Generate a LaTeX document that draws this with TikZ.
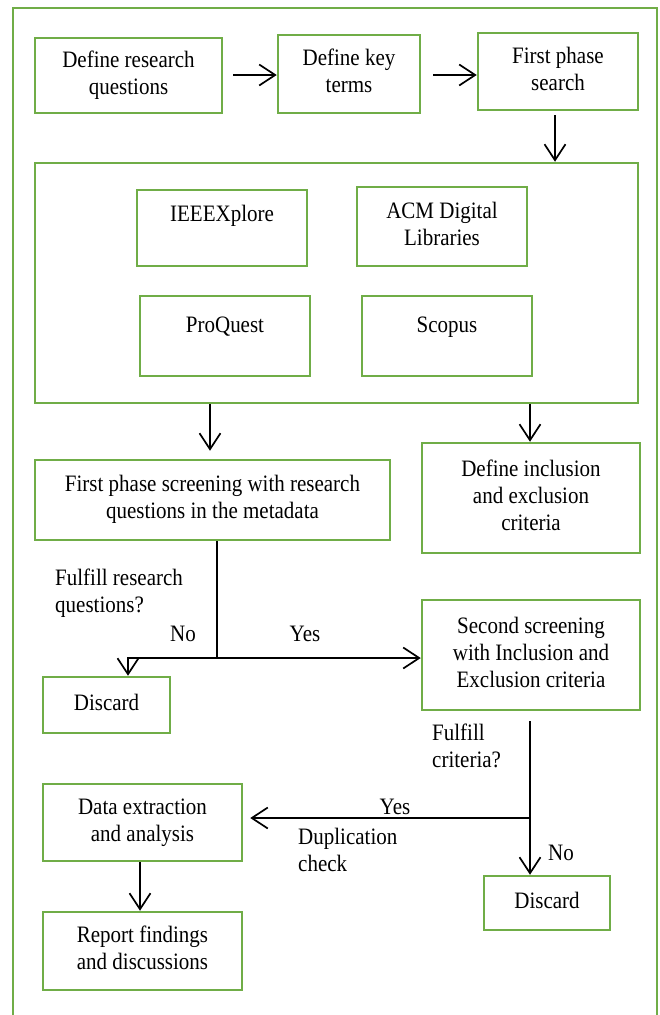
\documentclass[tikz,border=0pt]{standalone}
\usepackage{graphicx}
\usepackage{fontspec}
\setmainfont{Liberation Serif}
\usetikzlibrary{arrows.meta}
\definecolor{boxgreen}{RGB}{112,173,71}
\newcommand\diafont{\fontsize{21}{24}\selectfont}
\newcommand\ctext[1]{\scalebox{1}[1.12]{\begin{tabular}{@{}c@{}}#1\end{tabular}}}
\newcommand\ltext[1]{\scalebox{1}[1.12]{\begin{tabular}{@{}l@{}}#1\end{tabular}}}
\begin{document}
\begin{tikzpicture}[x=1pt,y=-1pt,
  gbox/.style={draw=boxgreen, line width=2.5pt, inner sep=0pt, font=\diafont},
  lbl/.style={inner sep=0pt, font=\diafont},
  frameline/.style={draw=boxgreen, line width=2.5pt},
  conn/.style={draw=black, line width=1.7pt},
  arr/.style={conn, -{Straight Barb[length=16pt,width=21pt,line width=1.7pt]}}]
\useasboundingbox (0,0) rectangle (660,1015);
% outer frame (open at the bottom)
\draw[frameline] (13,1016) -- (13,8) -- (657,8) -- (657,1016);
% top row
\node[gbox, minimum width=187, minimum height=75] (drq) at (128.5,75.5) {\ctext{Define research\\questions}};
\node[gbox, minimum width=142, minimum height=78] (dkt) at (349,74) {\ctext{Define key\\terms}};
\node[gbox, minimum width=160, minimum height=77] (fps) at (558,71.5) {\ctext{First phase\\search}};
% databases
\node[gbox, minimum width=603, minimum height=240] (big) at (336.5,283) {};
\node[gbox, minimum width=170, minimum height=76] (ieee) at (222,228) {};
\node[lbl] (ieeet) at (222,216) {\ctext{IEEEXplore}};
\node[gbox, minimum width=170, minimum height=79] (acm) at (442,226.5) {\ctext{ACM Digital\\Libraries}};
\node[gbox, minimum width=170, minimum height=80] (proq) at (225,336) {};
\node[lbl] (proqt) at (225,327) {\ctext{ProQuest}};
\node[gbox, minimum width=170, minimum height=80] (scop) at (447,336) {};
\node[lbl] (scopt) at (447,327) {\ctext{Scopus}};
% screening
\node[gbox, minimum width=355, minimum height=80] (fpsc) at (212.5,500) {\ctext{First phase screening with research\\questions in the metadata}};
\node[gbox, minimum width=218, minimum height=110] (incl) at (531,498) {\ctext{Define inclusion\\and exclusion\\criteria}};
\node[gbox, minimum width=127, minimum height=56] (disc1) at (106.5,705) {\ctext{Discard}};
\node[gbox, minimum width=218, minimum height=110] (ss) at (531,655) {\ctext{Second screening\\with Inclusion and\\Exclusion criteria}};
\node[gbox, minimum width=199, minimum height=77] (dea) at (142.5,822.5) {\ctext{Data extraction\\and analysis}};
\node[gbox, minimum width=126, minimum height=54] (disc2) at (547,903) {\ctext{Discard}};
\node[gbox, minimum width=199, minimum height=78] (rep) at (142.5,951) {\ctext{Report findings\\and discussions}};
% labels
\node[lbl, anchor=west] (q1) at (55,594) {\ltext{Fulfill research\\questions?}};
\node[lbl] (no1) at (183,636) {\ctext{No}};
\node[lbl] (yes1) at (305,636) {\ctext{Yes}};
\node[lbl, anchor=west] (q2) at (432,749) {\ltext{Fulfill\\criteria?}};
\node[lbl] (yes2) at (395,809) {\ctext{Yes}};
\node[lbl, anchor=west] (dup) at (298,853) {\ltext{Duplication\\check}};
\node[lbl] (no2) at (561,855) {\ctext{No}};
% junctions
\coordinate (j1) at (217,658);
\coordinate (j2) at (530,818);
% connectors
\draw[arr, shorten <=10pt] (drq.east |- 0,75) -- (dkt.west |- 0,75);
\draw[arr, shorten <=12pt] (dkt.east |- 0,75) -- (fps.west |- 0,75);
\draw[arr, shorten <=4pt] (fps.south -| 555,0) -- (big.north -| 555,0);
\draw[arr, shorten >=8pt] (big.south -| 210,0) -- (fpsc.north -| 210,0);
\draw[arr] (big.south -| 530,0) -- (incl.north -| 530,0);
\draw[conn] (fpsc.south -| j1) -- (j1);
\draw[arr] (j1) -| (disc1.north -| 128,0);
\draw[arr] (j1) -- (j1 -| ss.west);
\draw[conn, shorten <=10pt] (ss.south -| j2) -- (j2);
\draw[arr] (j2) -- (j2 |- disc2.north);
\draw[arr, shorten >=7pt] (j2) -- (j2 -| dea.east);
\draw[arr] (dea.south -| 140,0) -- (rep.north -| 140,0);
\end{tikzpicture}
\end{document}
